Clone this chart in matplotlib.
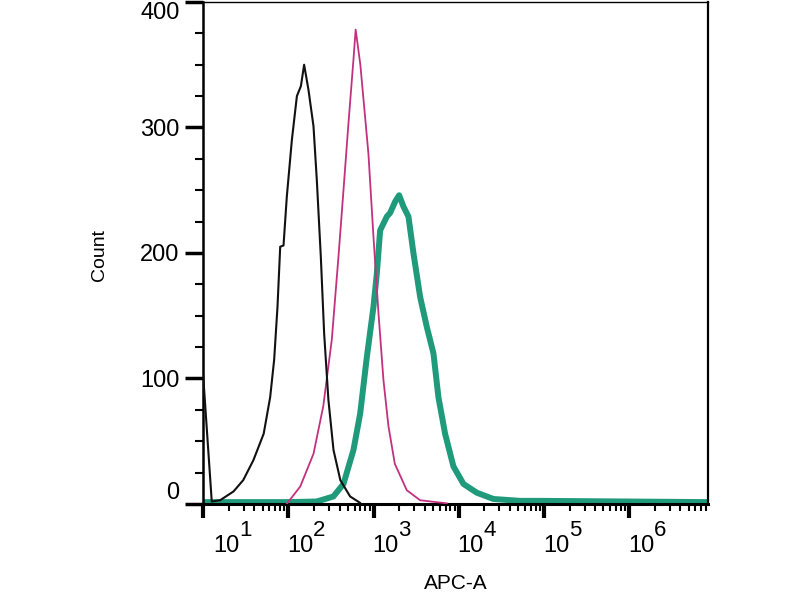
import numpy as np
import matplotlib
matplotlib.use('Agg')
import matplotlib.pyplot as plt
from matplotlib.ticker import FixedLocator, NullFormatter

### Font setup, Arial-like ###
plt.rcParams['font.family'] = ['Liberation Sans', 'DejaVu Sans']

### Histogram values (APC-A intensity, count) ###
iso_apc = [10, 12.6, 15.8, 22.7, 29.5, 38.9, 51.3, 61.1, 68.1, 74.5, 80.2, 87.7,
           95.9, 109.9, 125.9, 140.3, 153.1, 172.2, 197.2, 215.8, 240.4, 263.0,
           295.1, 338.8, 407.4, 530.9, 691.8]
iso_count = [102, 2, 3, 10, 19, 35, 56, 85, 115, 157, 205, 206,
             245, 290, 325, 333, 350, 330, 301, 258, 197, 136,
             83, 43, 19, 6, 1]

neg_apc = [95.5, 138.0, 197.2, 257.0, 323.6, 387.3, 443.6, 507.0, 580.8, 616.6,
           700.0, 871.0, 997.7, 1142.8, 1306.2, 1496.2, 1778.3, 2454.7, 3523.7, 7244]
neg_count = [0, 14, 40, 78, 131, 197, 250, 303, 354, 378,
             350, 279, 213, 152, 99, 62, 32, 11, 3, 0.5]

pos_apc = [10, 100, 215.8, 338, 443.6, 580.8, 696.6, 834, 997.7, 1094, 1195, 1432,
           1567, 1795, 1997, 2244, 2570, 2939, 3524, 4224, 5051, 5781, 6920,
           8664, 11360, 16300, 25530, 52480, 90200, 8.4e6]
pos_count = [1.5, 1.5, 2, 6, 16, 43, 72, 117, 157, 184, 218, 229,
             232, 241, 246, 237, 229, 200, 165, 141, 120, 85, 56,
             30, 16, 9, 4, 2.5, 2.5, 1.5]

decades = [1, 2, 3, 4, 5, 6]
count_ticks = [0, 100, 200, 300, 400]

### Figure and axes placement ###
fig = plt.figure(figsize=(8, 6), dpi=100)
ax = fig.add_axes([0.254, 0.16, 0.631, 0.8367])

ax.plot(pos_apc, pos_count, color='#1f9a7a', lw=4.3, solid_joinstyle='round', zorder=2)
ax.plot(neg_apc, neg_count, color='#c2317f', lw=1.3, zorder=3)
ax.plot(iso_apc, iso_count, color='#111111', lw=1.5, zorder=4)

ax.set_xscale('log')
ax.set_xlim(10, 8.45e6)
ax.set_ylim(0, 400)

### Ticks ###
major_x = [10.0 ** d for d in decades]
minor_x = [m * 10.0 ** d for d in decades for m in range(2, 10)]
ax.xaxis.set_major_locator(FixedLocator(major_x))
ax.xaxis.set_minor_locator(FixedLocator(minor_x))
ax.xaxis.set_major_formatter(NullFormatter())
ax.xaxis.set_minor_formatter(NullFormatter())

ax.set_yticks(count_ticks)
ax.set_yticks(np.arange(0, 401, 25), minor=True)
ax.set_yticklabels([str(t) for t in count_ticks], fontsize=17)
ylabs = ax.get_yticklabels()
ylabs[0].set_va('bottom')
ylabs[-1].set_va('top')

ax.tick_params(axis='y', which='major', direction='out', length=13, width=2.5, pad=4)
ax.tick_params(axis='y', which='minor', direction='out', length=6, width=1.5)
ax.tick_params(axis='x', which='major', direction='out', length=10, width=3)
ax.tick_params(axis='x', which='minor', direction='out', length=5, width=1.5)

### Spines ###
ax.spines['left'].set_linewidth(1.8)
ax.spines['bottom'].set_linewidth(2.2)
ax.spines['top'].set_linewidth(1.0)
ax.spines['right'].set_linewidth(1.6)

### Decade labels, offset to the right of the tick like the original ###
for d in decades:
    shift = 11 if d == 1 else 0
    ax.annotate('10', xy=(10.0 ** d, 0), xycoords=('data', 'axes fraction'),
                xytext=(12 + shift, -42), textcoords='offset pixels',
                ha='center', va='center', fontsize=17)
    ax.annotate(str(d), xy=(10.0 ** d, 0), xycoords=('data', 'axes fraction'),
                xytext=(31 + shift, -27), textcoords='offset pixels',
                ha='center', va='center', fontsize=16)

### Axis titles ###
ax.set_xlabel('APC-A', fontsize=15)
ax.xaxis.set_label_coords(0.5, -0.14)
ax.set_ylabel('Count', fontsize=14)
ax.yaxis.set_label_coords(-0.188, 0.496)

plt.savefig('out.png', dpi=100)
